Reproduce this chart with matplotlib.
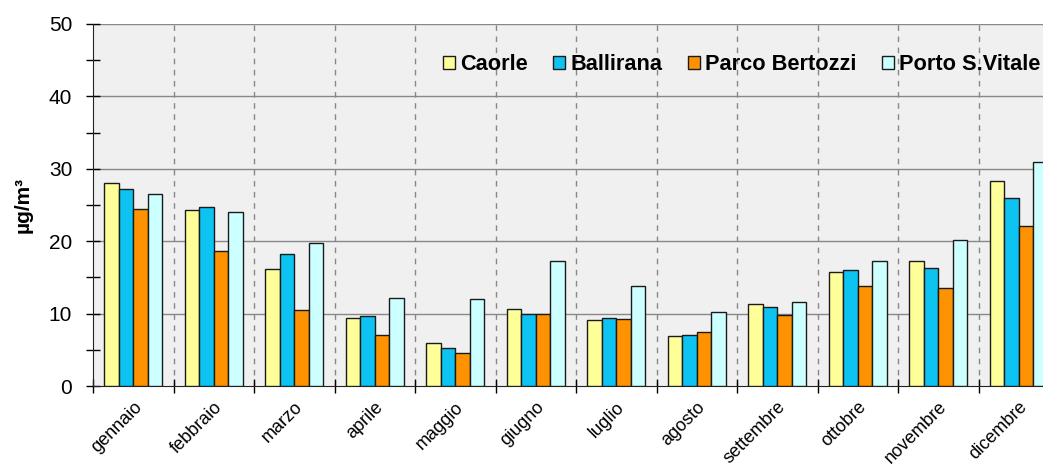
import numpy as np
import matplotlib
matplotlib.use("Agg")
import matplotlib.pyplot as plt
from matplotlib.ticker import MultipleLocator, FixedLocator, NullFormatter

plt.rcParams["font.family"] = ["Liberation Sans", "DejaVu Sans"]

mesi = ["gennaio", "febbraio", "marzo", "aprile", "maggio", "giugno",
        "luglio", "agosto", "settembre", "ottobre", "novembre", "dicembre"]
stazioni = ["Caorle", "Ballirana", "Parco Bertozzi", "Porto S.Vitale"]
caorle = [28.1, 24.3, 16.2, 9.4, 6.0, 10.7, 9.1, 6.9, 11.3, 15.8, 17.3, 28.3]
ballirana = [27.2, 24.7, 18.3, 9.6, 5.3, 10.0, 9.4, 7.1, 10.9, 16.0, 16.3, 26.0]
parco_bertozzi = [24.5, 18.7, 10.5, 7.1, 4.6, 10.0, 9.3, 7.5, 9.8, 13.8, 13.6, 22.1]
porto_s_vitale = [26.5, 24.0, 19.8, 12.2, 12.0, 17.2, 13.8, 10.2, 11.6, 17.3, 20.1, 31.0]
colori = ["#FFFF99", "#0DC3F2", "#FF9200", "#CCFFFF"]

serie = [caorle, ballirana, parco_bertozzi, porto_s_vitale]

fig = plt.figure(figsize=(10.43, 4.68), dpi=100)
ax = fig.add_axes([93 / 1043, 1 - 386 / 468, 966 / 1043, 362 / 468])
ax.set_facecolor("#F0F0F0")

x = np.arange(len(mesi))
w = 0.18
for i, (vals, col, nome) in enumerate(zip(serie, colori, stazioni)):
    ax.bar(x + (i - 1.5) * w, vals, w, color=col, edgecolor="#1a1a1a",
           linewidth=1.0, label=nome, zorder=3)

ax.set_xlim(-0.5, len(mesi) - 0.5)
ax.set_ylim(0, 50)

# griglia
ax.yaxis.set_major_locator(MultipleLocator(10))
ax.yaxis.set_minor_locator(MultipleLocator(5))
for y in [10, 20, 30, 40, 50]:
    ax.axhline(y, color="#888888", lw=1.0, zorder=1)
ax.xaxis.set_major_locator(FixedLocator(np.arange(-0.5, len(mesi), 1)))
ax.xaxis.set_major_formatter(NullFormatter())
ax.xaxis.set_minor_locator(FixedLocator(x))
ax.set_xticklabels(mesi, minor=True, rotation=45, ha="right",
                   rotation_mode="anchor", fontsize=13)
for b in np.arange(0.5, len(mesi) - 0.5, 1):
    ax.axvline(b, color="#888888", lw=1.0, ls=(0, (4, 4)), zorder=1)

ax.tick_params(axis="x", which="major", direction="inout", length=10, width=1)
ax.tick_params(axis="x", which="minor", length=0, pad=9)
ax.tick_params(axis="y", which="both", direction="inout", length=10, width=1,
               labelsize=15, pad=10)

for s in ["top", "right"]:
    ax.spines[s].set_visible(False)
ax.spines["left"].set_color("#222222")
ax.spines["bottom"].set_color("#222222")

ax.set_ylabel("µg/m³", fontsize=15, fontweight="bold")
ax.yaxis.set_label_coords(-60 / 966, 0.5)

leg = ax.legend(loc="center left", bbox_to_anchor=(350 / 966, 1 - 41 / 362),
                ncol=4, frameon=False, handlelength=0.55, handleheight=0.55,
                handletextpad=0.25, columnspacing=1.15, borderpad=0,
                borderaxespad=0, prop={"weight": "bold", "size": 15.7})

fig.savefig("out.png", dpi=100)
